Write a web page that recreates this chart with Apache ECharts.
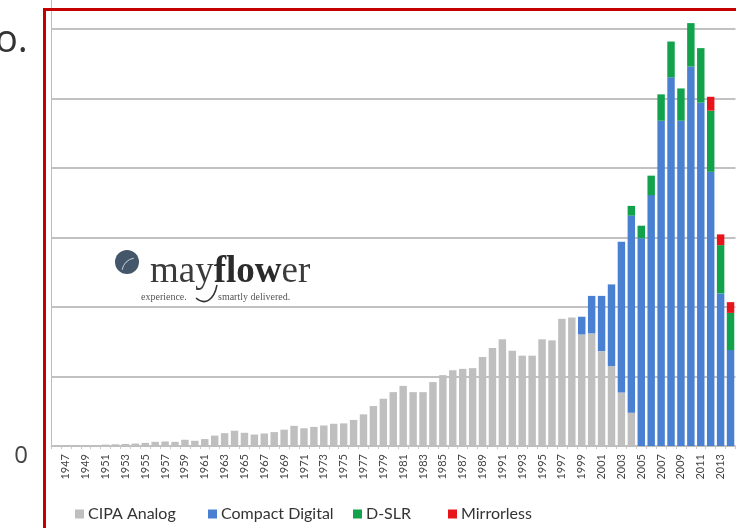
<!DOCTYPE html>
<html>
<head>
<meta charset="utf-8">
<script src="https://cdn.jsdelivr.net/npm/echarts@6/dist/echarts.min.js"></script>
<style>
html,body{margin:0;padding:0;background:#fff;}
#chart{width:736px;height:528px;}
</style>
</head>
<body>
<div id="chart"></div>
<script>
// Categories (years); 1946 is an empty leading slot as in the original chart
const years = ['1946','1947','1948','1949','1950','1951','1952','1953','1954','1955','1956',
  '1957','1958','1959','1960','1961','1962','1963','1964','1965','1966',
  '1967','1968','1969','1970','1971','1972','1973','1974','1975','1976',
  '1977','1978','1979','1980','1981','1982','1983','1984','1985','1986',
  '1987','1988','1989','1990','1991','1992','1993','1994','1995','1996',
  '1997','1998','1999','2000','2001','2002','2003','2004','2005','2006',
  '2007','2008','2009','2010','2011','2012','2013','2014'];

// Shipments in millions of units
const analogStart = 1947;
const analogValues = [0.2,0.3,0.3,0.3,0.4,0.5,0.6,0.7,0.9,1.2,
  1.3,1.2,1.8,1.5,2.0,3.0,3.7,4.4,3.8,3.3,
  3.6,4.0,4.7,5.8,5.1,5.5,5.9,6.4,6.5,7.5,
  9.1,11.5,13.6,15.5,17.3,15.5,15.5,18.4,20.4,21.8,
  22.2,22.4,25.6,28.2,30.7,27.4,26.0,26.0,30.7,30.4,
  36.6,37.0,32.1,32.4,27.3,23.0,15.4,9.6];

const compactStart = 1999;
const compactValues = [5.1,10.8,15.9,23.5,43.4,56.7,59.8,72.2,93.6,106.1,93.6,109.2,98.8,78.9,43.9,27.6];

const dslrStart = 2004;
const dslrValues = [2.8,3.6,5.6,7.6,10.3,9.3,12.5,15.7,17.6,13.9,10.7];

const mirrorlessStart = 2012;
const mirrorlessValues = [4.0,3.1,3.1];

const seriesNames = ['CIPA Analog','Compact Digital','D-SLR','Mirrorless'];
const seriesColors = ['#bfbfbf','#4a80d2','#12a24b','#e8141c'];
const legendLefts = [70, 203, 348, 443];

function align(start, vals){
  return years.map(y => {
    const i = Number(y) - start;
    return (i >= 0 && i < vals.length) ? vals[i] : null;
  });
}

const seriesData = [
  align(analogStart, analogValues),
  align(compactStart, compactValues),
  align(dslrStart, dslrValues),
  align(mirrorlessStart, mirrorlessValues)
];

const chart = echarts.init(document.getElementById('chart'));
const option = {
  animation: false,
  backgroundColor: '#ffffff',
  grid: { left: 51, right: 0.5, top: 0, bottom: 82, containLabel: false },
  legend: seriesNames.map((n, k) => ({
    left: legendLefts[k], top: 501,
    itemWidth: 9, itemHeight: 9,
    icon: 'rect',
    textStyle: { fontFamily: 'Lato', fontSize: 16, color: '#333', padding: [0,0,0,-1] },
    data: [n]
  })),
  xAxis: {
    type: 'category',
    data: years,
    boundaryGap: true,
    axisLine: { lineStyle: { color: '#bdbdbd', width: 1 } },
    axisTick: { show: true, length: 3, interval: 0, lineStyle: { color: '#c8c8c8' } },
    axisLabel: {
      rotate: 90,
      margin: 8,
      interval: function(i){ return i % 2 === 1; },
      fontFamily: 'Lato', fontSize: 11, color: '#444'
    }
  },
  yAxis: {
    type: 'value',
    min: 0, max: 128.35, interval: 20,
    axisLine: { show: true, lineStyle: { color: '#bdbdbd', width: 1 } },
    axisTick: { show: false },
    splitLine: { showMaxLine: false, lineStyle: { color: '#adadad', width: 1.6 } },
    axisLabel: {
      margin: 23,
      showMaxLabel: false,
      verticalAlign: 'top',
      formatter: function(v){ return v === 0 ? '0' : ''; },
      fontFamily: 'Open Sans', fontSize: 24, lineHeight: 20, color: '#444'
    }
  },
  series: seriesNames.map((n, k) => ({
    name: n,
    type: 'bar',
    stack: 'total',
    data: seriesData[k],
    barCategoryGap: '25%',
    itemStyle: { color: seriesColors[k] }
  })),
  graphic: [
    { type: 'text', left: -5, top: 22, style: { text: 'o.', fontFamily: 'Open Sans', fontSize: 38, fill: '#333' } },
    { type: 'rect', shape: { x: 44.5, y: 9.5, width: 800, height: 600 }, style: { fill: 'none', stroke: '#c40000', lineWidth: 3 }, z: 100 },
    { type: 'circle', shape: { cx: 127, cy: 262, r: 12 }, style: { fill: '#44566a' }, z: 50 },
    { type: 'arc', shape: { cx: 136, cy: 272, r: 14, startAngle: Math.PI * 1.05, endAngle: Math.PI * 1.45 }, style: { stroke: '#c9d2db', lineWidth: 1, fill: 'none' }, z: 51 },
    { type: 'text', x: 150, y: 272, z: 50, style: {
      text: '{a|may}{b|flow}{a|er}',
      verticalAlign: 'middle',
      rich: {
        a: { fontFamily: 'Liberation Serif', fontSize: 37, fill: '#3b3b3b' },
        b: { fontFamily: 'Liberation Serif', fontSize: 37, fontWeight: 'bold', fill: '#2b2b2b' }
      }
    } },
    { type: 'text', x: 141, y: 297, z: 50, style: { text: 'experience.', fontFamily: 'Liberation Serif', fontSize: 10, fill: '#555', verticalAlign: 'middle' } },
    { type: 'text', x: 218, y: 297, z: 50, style: { text: 'smartly delivered.', fontFamily: 'Liberation Serif', fontSize: 10, fill: '#555', verticalAlign: 'middle' } },
    { type: 'bezierCurve', shape: { x1: 196, y1: 298, x2: 217, y2: 285, cpx1: 205, cpy1: 306, cpx2: 214, cpy2: 300 }, style: { stroke: '#333', lineWidth: 1.5, fill: 'none' }, z: 50 }
  ]
};
chart.setOption(option);
</script>
</body>
</html>
